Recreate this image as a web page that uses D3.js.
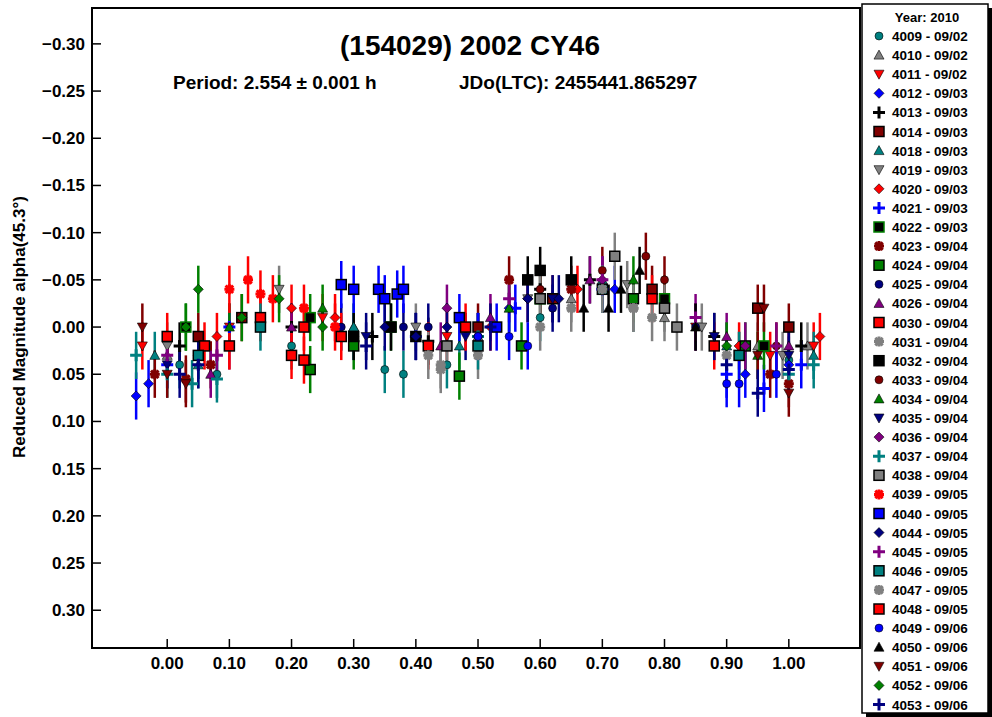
<!DOCTYPE html>
<html><head><meta charset="utf-8">
<script src="https://cdn.jsdelivr.net/npm/d3@7"></script>
<style>body{margin:0;background:#fff}text{font-family:Arial,"Liberation Sans",sans-serif;font-weight:bold}</style>
</head><body><svg id="c" width="992" height="717"></svg>
<script>
const ids=["4009","4010","4011","4012","4013","4014","4018","4019","4020","4021","4022","4023","4024","4025","4026","4030","4031","4032","4033","4034","4035","4036","4037","4038","4039","4040","4044","4045","4046","4047","4048","4049","4050","4051","4052","4053"];
const dates=["09/02","09/02","09/02","09/03","09/03","09/03","09/03","09/03","09/03","09/03","09/03","09/04","09/04","09/04","09/04","09/04","09/04","09/04","09/04","09/04","09/04","09/04","09/04","09/04","09/05","09/05","09/05","09/05","09/05","09/05","09/05","09/06","09/06","09/06","09/06","09/06"];
const symbols=["circle","triUp","triDown","diamond","plus","square","triUp","triDown","diamond","plus","square","star","square","circle","triUp","square","star","square","circle","triUp","triDown","diamond","plus","square","star","square","diamond","plus","square","star","square","circle","triUp","triDown","diamond","plus"];
const fills=["#008080","#808080","#ff0000","#0000ff","#000000","#800000","#008080","#808080","#ff0000","#0000ff","#000000","#800000","#008000","#000080","#800080","#ff0000","#808080","#000000","#800000","#008000","#000080","#800080","#008080","#808080","#ff0000","#0000ff","#000080","#800080","#008080","#808080","#ff0000","#0000ff","#000000","#800000","#008000","#000080"];
const colors=["#008080","#808080","#ff0000","#0000ff","#000000","#800000","#008080","#808080","#ff0000","#0000ff","#008000","#800000","#008000","#000080","#800080","#ff0000","#808080","#000000","#800000","#008000","#000080","#800080","#008080","#808080","#ff0000","#0000ff","#000080","#800080","#008080","#808080","#ff0000","#0000ff","#000000","#800000","#008000","#000080"];
const points=[
[[0.02,0.04],[0.08,0.05],[0.35,0.045],[0.38,0.05],[0.45,0.04],[0.6,-0.01],[0.75,-0.02],[0.92,0.03],[1.0,0.035],[0.2,0.02]],
[[0.0,0.03],[0.15,-0.01],[0.3,0.0],[0.5,0.01],[0.65,-0.03],[0.8,-0.01],[0.95,0.02],[1.03,0.02]],
[[-0.04,0.02],[0.1,0.0],[0.25,-0.01],[0.45,0.01],[0.7,-0.04],[0.85,0.0],[0.97,0.03],[1.04,0.02]],
[[-0.05,0.073],[-0.03,0.06],[0.05,0.03],[0.3,0.01],[0.55,-0.02],[0.72,-0.04],[0.93,0.05],[1.0,0.04]],
[[0.02,0.02],[0.2,0.0],[0.33,0.01],[0.42,0.015],[0.6,-0.04],[0.68,-0.05],[0.88,0.01],[1.02,0.02]],
[[0.05,0.01],[0.12,-0.01],[0.5,0.0],[0.62,-0.03],[0.78,-0.04],[0.95,-0.02],[1.0,0.0]],
[[-0.02,0.03],[0.05,0.04],[0.3,0.0],[0.47,0.02],[0.7,-0.05],[0.9,0.02],[1.04,0.03]],
[[0.18,-0.04],[0.0,0.02],[0.4,0.0],[0.58,-0.03],[0.74,-0.045],[0.86,0.0],[0.99,0.03]],
[[0.08,0.01],[0.2,-0.02],[0.27,-0.01],[0.52,0.0],[0.66,-0.04],[0.92,0.02],[1.05,0.01]],
[[0.0,0.04],[0.1,0.0],[0.4,0.01],[0.56,-0.02],[0.7,-0.04],[0.9,0.05],[0.96,0.065],[1.02,0.04]],
[[0.03,0.0],[0.23,-0.01],[0.36,0.0],[0.6,-0.03],[0.8,-0.03],[0.96,0.02]],
[[-0.02,0.05],[0.03,0.055],[0.07,0.04],[0.55,-0.05],[0.65,-0.04],[0.97,0.05],[1.0,0.06]],
[[0.23,0.045],[0.47,0.052],[0.57,0.02],[0.3,0.02],[0.75,-0.03],[0.93,0.02]],
[[0.28,0.0],[0.38,0.0],[0.42,0.0],[0.5,0.01],[0.62,-0.02],[0.85,0.0]],
[[0.07,0.05],[0.2,0.0],[0.44,0.02],[0.52,-0.01],[0.68,-0.05],[0.9,0.01],[1.0,0.02]],
[[0.06,0.02],[0.15,-0.01],[0.22,0.0],[0.42,0.02],[0.78,-0.03],[0.88,0.02]],
[[0.42,0.03],[0.44,0.045],[0.5,0.03],[0.6,0.0],[0.75,-0.02],[0.9,0.03]],
[[0.3,0.01],[0.36,0.0],[0.4,0.01],[0.58,-0.05],[0.6,-0.06],[0.65,-0.05]],
[[0.6,-0.04],[0.7,-0.06],[0.77,-0.075],[0.8,-0.05],[0.98,0.02]],
[[0.1,0.0],[0.25,-0.02],[0.55,-0.02],[0.75,-0.05],[0.95,0.03]],
[[0.0,0.04],[0.32,0.01],[0.48,0.01],[0.62,-0.03],[0.88,0.01],[1.0,0.03]],
[[0.1,0.02],[0.45,-0.02],[0.58,-0.03],[0.7,-0.05],[0.93,0.02]],
[[-0.05,0.03],[0.0,0.05],[0.04,0.06],[0.08,0.055],[0.5,0.01],[1.0,0.05],[1.04,0.04]],
[[0.45,0.02],[0.6,-0.03],[0.72,-0.075],[0.8,-0.02],[0.82,0.0]],
[[0.1,-0.04],[0.13,-0.05],[0.15,-0.035],[0.17,-0.03],[0.22,-0.02],[0.27,0.0]],
[[0.28,-0.045],[0.3,-0.04],[0.34,-0.04],[0.37,-0.035],[0.38,-0.04],[0.35,-0.03],[0.47,-0.01],[0.53,0.0]],
[[0.35,0.0],[0.4,0.01],[0.45,0.0],[0.5,0.01],[0.58,-0.03],[0.63,-0.03]],
[[0.0,0.03],[0.08,0.03],[0.55,-0.03],[0.7,-0.05],[0.85,-0.01],[0.98,0.02]],
[[0.05,0.03],[0.15,0.0],[0.5,0.02],[0.7,-0.04],[0.92,0.03]],
[[0.65,-0.02],[0.7,-0.04],[0.75,-0.02],[0.78,-0.01],[0.44,0.04]],
[[0.0,0.01],[0.1,0.02],[0.2,0.03],[0.22,0.035],[0.28,0.01],[0.48,0.0]],
[[0.55,0.01],[0.58,0.02],[0.9,0.06],[0.92,0.06],[0.98,0.05],[0.5,0.01]],
[[0.67,-0.02],[0.71,-0.02],[0.73,-0.04],[0.76,-0.06],[0.85,0.0]],
[[-0.04,0.0],[0.0,0.05],[0.03,0.06],[0.95,0.03],[1.0,0.07],[0.96,-0.02]],
[[0.03,0.0],[0.05,-0.04],[0.12,-0.01],[0.18,-0.03],[0.25,0.0],[0.9,0.02]],
[[0.02,0.05],[0.05,0.04],[0.32,0.02],[0.52,0.0],[0.9,0.04],[0.95,0.07],[1.0,0.045]]
];
const errBar=0.025;
const xTicks=[0,0.1,0.2,0.3,0.4,0.5,0.6,0.7,0.8,0.9,1.0];
const yTicks=[-0.30,-0.25,-0.20,-0.15,-0.10,-0.05,0,0.05,0.10,0.15,0.20,0.25,0.30];

const svg=d3.select("#c");
const L=92,R=860,T=8,B=648;
const x=d3.scaleLinear().domain([-0.121,1.1145]).range([L,R]);
const y=d3.scaleLinear().domain([-0.338,0.340]).range([T,B]);
svg.append("rect").attr("x",L).attr("y",T).attr("width",R-L).attr("height",B-T).attr("fill","#fff").attr("stroke","#000").attr("stroke-width",2);

function sym(g,type,fill,stroke,d){
  if(type==="circle") g.append("circle").attr("r",d*0.8).attr("fill",fill).attr("stroke","#000").attr("stroke-width",0.6);
  else if(type==="square") g.append("rect").attr("x",-d).attr("y",-d).attr("width",2*d).attr("height",2*d).attr("fill",fill).attr("stroke",stroke).attr("stroke-width",1.5);
  else if(type==="triUp") g.append("path").attr("d",`M0,${-d}L${d},${d*0.8}L${-d},${d*0.8}Z`).attr("fill",fill).attr("stroke","#000").attr("stroke-width",0.6);
  else if(type==="triDown") g.append("path").attr("d",`M0,${d}L${d},${-d*0.8}L${-d},${-d*0.8}Z`).attr("fill",fill).attr("stroke","#000").attr("stroke-width",0.6);
  else if(type==="diamond") g.append("path").attr("d",`M0,${-d}L${d},0L0,${d}L${-d},0Z`).attr("fill",fill).attr("stroke","#000").attr("stroke-width",0.6);
  else if(type==="plus") g.append("path").attr("d",`M${-d*1.2},0H${d*1.2}M0,${-d*1.2}V${d*1.2}`).attr("stroke",fill).attr("stroke-width",3);
  else if(type==="star") g.append("path").attr("d",`M${-d},0H${d}M0,${-d}V${d}M${-d*.75},${-d*.75}L${d*.75},${d*.75}M${-d*.75},${d*.75}L${d*.75},${-d*.75}`).attr("stroke",fill).attr("stroke-width",3);
}
function boxStroke(i){
  if(symbols[i]!=="square") return "#000";
  return colors[i]!==fills[i]?colors[i]:"#000";
}
const plot=svg.append("g");
points.forEach((pts,i)=>{
  pts.forEach(p=>{
    plot.append("line").attr("x1",x(p[0])).attr("x2",x(p[0])).attr("y1",y(p[1]-errBar)).attr("y2",y(p[1]+errBar)).attr("stroke",colors[i]).attr("stroke-width",2.5);
  });
});
points.forEach((pts,i)=>{
  pts.forEach(p=>{
    const g=plot.append("g").attr("transform",`translate(${x(p[0])},${y(p[1])})`);
    sym(g,symbols[i],fills[i],boxStroke(i),5);
  });
});

yTicks.forEach(t=>{
  svg.append("line").attr("x1",L).attr("x2",L+9).attr("y1",y(t)).attr("y2",y(t)).attr("stroke","#000").attr("stroke-width",1.5);
  svg.append("text").attr("x",L-7).attr("y",y(t)+6).attr("text-anchor","end").attr("font-size",17).text(d3.format(".2f")(t));
});
xTicks.forEach(t=>{
  svg.append("line").attr("x1",x(t)).attr("x2",x(t)).attr("y1",B).attr("y2",B-9).attr("stroke","#000").attr("stroke-width",1.5);
  svg.append("text").attr("x",x(t)).attr("y",B+21).attr("text-anchor","middle").attr("font-size",17).text(d3.format(".2f")(t));
});
svg.append("text").attr("transform","translate(25,327) rotate(-90)").attr("text-anchor","middle").attr("font-size",17).text("Reduced Magnitude alpha(45.3°)");
svg.append("text").attr("x",470).attr("y",55).attr("text-anchor","middle").attr("font-size",28).text("(154029) 2002 CY46");
svg.append("text").attr("x",173).attr("y",89).attr("font-size",19).text("Period: 2.554 ± 0.001 h");
svg.append("text").attr("x",459).attr("y",89).attr("font-size",19).text("JDo(LTC): 2455441.865297");

// legend
svg.append("rect").attr("x",866).attr("y",8).attr("width",126).attr("height",709).attr("fill","#000");
svg.append("rect").attr("x",862).attr("y",4).attr("width",126).attr("height",709).attr("fill","#fff").attr("stroke","#000").attr("stroke-width",1.5);
svg.append("text").attr("x",927).attr("y",22).attr("text-anchor","middle").attr("font-size",13).text("Year: 2010");
ids.forEach((id,i)=>{
  const cy=36+i*19.1;
  const g=svg.append("g").attr("transform",`translate(879,${cy})`);
  sym(g,symbols[i],fills[i],boxStroke(i),5);
  svg.append("text").attr("x",892).attr("y",cy+5).attr("font-size",13.5).text(id+" - "+dates[i]);
});
</script></body></html>
